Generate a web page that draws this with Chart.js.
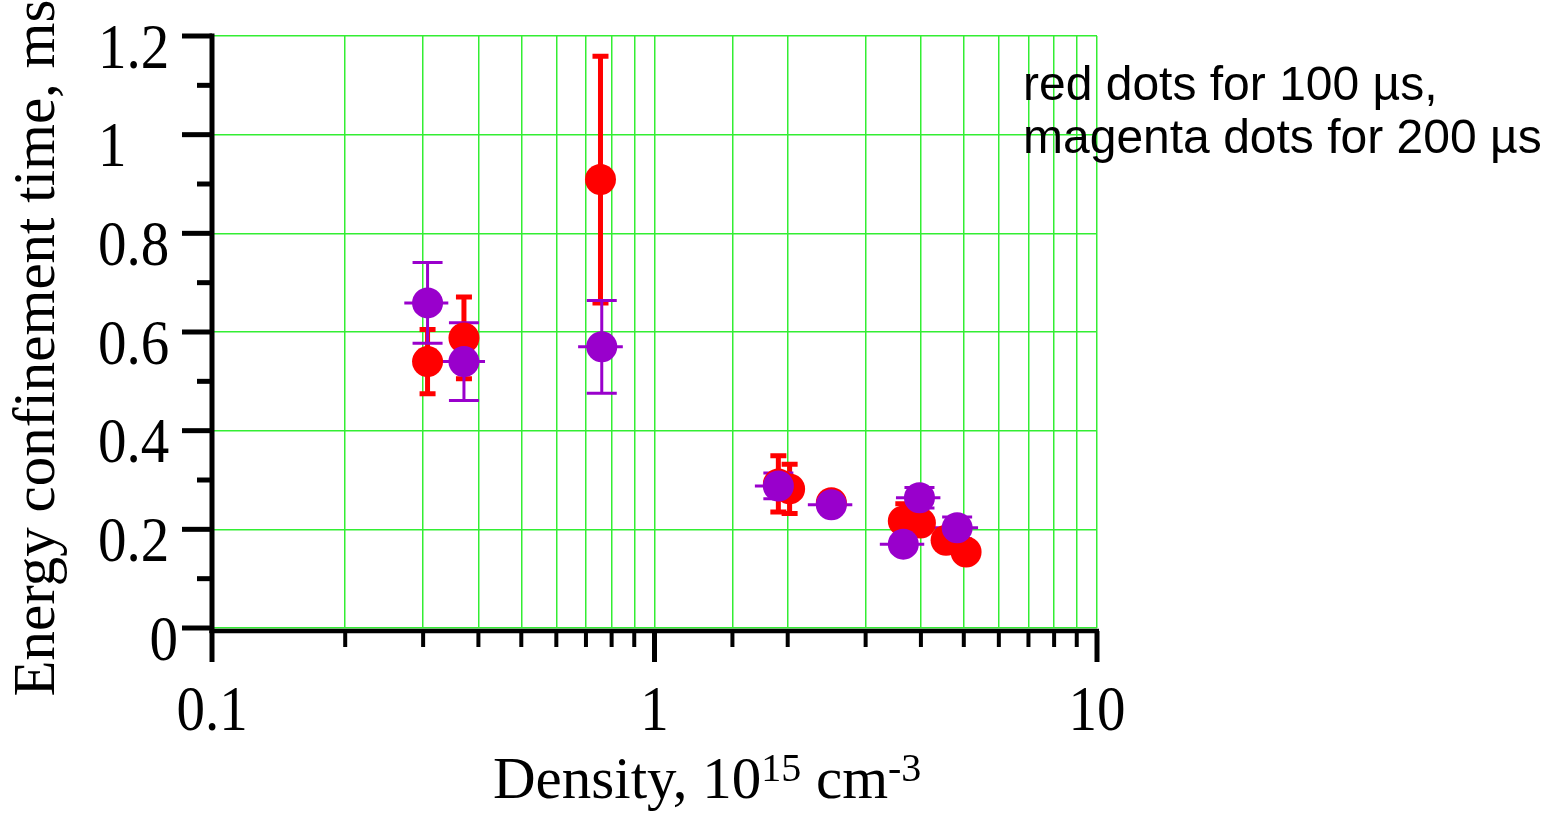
<!DOCTYPE html>
<html>
<head>
<meta charset="utf-8">
<title>Energy confinement time vs density</title>
<script src="https://cdn.jsdelivr.net/npm/chart.js@4/dist/chart.umd.min.js"></script>
<style>
  html, body { margin: 0; padding: 0; background: #fff; }
  #wrap { width: 1551px; height: 814px; position: relative; }
</style>
</head>
<body>
<div id="wrap"><canvas id="c" width="1551" height="814"></canvas></div>
<script>
// 100 µs shots (red)
const densityRed = [0.307, 0.371, 0.755, 1.905, 2.02, 2.51, 3.65, 3.99, 4.56, 5.06];
const tauRed     = [0.540, 0.588, 0.909, 0.292, 0.282, 0.254, 0.217, 0.213, 0.178, 0.154];
const tauErrRed  = [0.065, 0.083, 0.250, 0.057, 0.050, 0.010, 0.035, 0.020, 0.010, 0.010];

// 200 µs shots (magenta)
const densityMag = [0.307, 0.371, 0.760, 1.905, 2.51, 3.65, 3.97, 4.83];
const tauMag     = [0.659, 0.540, 0.570, 0.288, 0.250, 0.170, 0.264, 0.203];
const tauErrMag  = [0.082, 0.079, 0.094, 0.026, 0.000, 0.000, 0.021, 0.022];
const densErrMag = [0.035, 0.043, 0.088, 0.219, 0.289, 0.420, 0.457, 0.555];

// axis ranges and tick labels
const xRange = [0.1, 10];
const yRange = [0, 1.2];
const yStep = 0.2;
const xTickLabels = { 0.1: '0.1', 1: '1', 10: '10' };

const noteLines = ['red dots for 100 µs,', 'magenta dots for 200 µs'];

const RED = '#ff0000';
const MAG = '#9900cc';
const GRID = '#33ee33';
const SERIF = '"Liberation Serif", "Times New Roman", serif';
const SANS = '"Liberation Sans", Arial, sans-serif';

function points(xs, ys) { return xs.map((x, i) => ({ x, y: ys[i] })); }
function fmtY(v) { return (Math.round(v * 10) / 10).toString(); }

// vertical / horizontal error bars, drawn under the dots
const errorBars = {
  id: 'errorBars',
  beforeDatasetsDraw(chart) {
    const { ctx, scales: { x, y } } = chart;
    ctx.save();
    chart.data.datasets.forEach(ds => {
      const e = ds.errorStyle;
      ctx.strokeStyle = ds.backgroundColor;
      ds.data.forEach((p, i) => {
        const px = x.getPixelForValue(p.x);
        const ey = ds.tauErr[i];
        if (ey > 0) {
          const yTop = y.getPixelForValue(p.y + ey);
          const yBot = y.getPixelForValue(p.y - ey);
          ctx.lineWidth = e.width;
          ctx.beginPath();
          ctx.moveTo(px, yTop); ctx.lineTo(px, yBot);
          ctx.stroke();
          ctx.lineWidth = e.capWidth;
          ctx.beginPath();
          ctx.moveTo(px - e.cap, yTop); ctx.lineTo(px + e.cap, yTop);
          ctx.moveTo(px - e.cap, yBot); ctx.lineTo(px + e.cap, yBot);
          ctx.stroke();
        }
        if (ds.densErr) {
          const py = y.getPixelForValue(p.y);
          ctx.lineWidth = e.width;
          ctx.beginPath();
          ctx.moveTo(x.getPixelForValue(p.x - ds.densErr[i]), py);
          ctx.lineTo(x.getPixelForValue(p.x + ds.densErr[i]), py);
          ctx.stroke();
        }
      });
    });
    ctx.restore();
  }
};

// black axis lines with major and minor tick marks
const blackAxes = {
  id: 'blackAxes',
  beforeDatasetsDraw(chart) {
    const { ctx, chartArea: a, scales: { x, y } } = chart;
    ctx.save();
    ctx.strokeStyle = '#000';
    const seg = (x0, y0, x1, y1, w) => {
      ctx.lineWidth = w;
      ctx.beginPath(); ctx.moveTo(x0, y0); ctx.lineTo(x1, y1); ctx.stroke();
    };
    const axY = a.bottom + 3;
    // y axis
    seg(a.left, a.top - 2.5, a.left, axY + 2, 5);
    y.ticks.forEach((t, i) => {
      const py = y.getPixelForValue(t.value);
      seg(a.left - 30, py, a.left, py, 5);
      const nxt = y.ticks[i + 1];
      if (nxt) {
        const pm = y.getPixelForValue((t.value + nxt.value) / 2);
        seg(a.left - 15, pm, a.left, pm, 5);
      }
    });
    // x axis
    seg(a.left - 2.5, axY, a.right + 2, axY, 4.5);
    x.ticks.forEach(t => {
      const px = x.getPixelForValue(t.value);
      const major = Math.abs(Math.log10(t.value) - Math.round(Math.log10(t.value))) < 1e-6;
      seg(px, axY, px, axY + (major ? 31 : 16), major ? 5 : 4);
    });
    ctx.restore();
  }
};

// tick labels, placed from the scales' own ticks
const tickLabels = {
  id: 'tickLabels',
  afterDraw(chart) {
    const { ctx, chartArea: a, scales: { x, y } } = chart;
    ctx.save();
    ctx.fillStyle = '#000';
    ctx.font = '57px ' + SERIF;
    ctx.textBaseline = 'middle';
    const put = (txt, px, py, align) => {
      ctx.save();
      ctx.translate(px, py);
      ctx.scale(1, 1.12);
      ctx.textAlign = align;
      ctx.fillText(txt, 0, 0);
      ctx.restore();
    };
    y.ticks.forEach(t => {
      const txt = fmtY(t.value);
      const py = y.getPixelForValue(t.value) + 15;
      if (t.value === 0) put(txt, a.left - 34, py, 'right');
      else put(txt, a.left - 114, py, 'left');
    });
    x.ticks.forEach(t => {
      const txt = xTickLabels[t.value];
      if (txt) put(txt, x.getPixelForValue(t.value), a.bottom + 85, 'center');
    });
    ctx.restore();
  }
};

// axis titles and the note on the right
const texts = {
  id: 'texts',
  afterDraw(chart) {
    const { ctx } = chart;
    ctx.save();
    ctx.fillStyle = '#000';
    // y title
    ctx.save();
    ctx.translate(54, 348);
    ctx.rotate(-Math.PI / 2);
    ctx.font = '59px ' + SERIF;
    ctx.textAlign = 'center';
    ctx.textBaseline = 'alphabetic';
    ctx.fillText('Energy confinement time, ms', 0, 0);
    ctx.restore();
    // x title with superscripts
    const parts = [
      ['Density, 10', 59, 0],
      ['15', 40, -17],
      [' cm', 59, 0],
      ['-3', 40, -17]
    ];
    let cx = 493;
    const base = 798;
    ctx.textAlign = 'left';
    ctx.textBaseline = 'alphabetic';
    parts.forEach(([s, size, dy]) => {
      ctx.font = size + 'px ' + SERIF;
      ctx.fillText(s, cx, base + dy);
      cx += ctx.measureText(s).width;
    });
    // note
    ctx.font = '48px ' + SANS;
    noteLines.forEach((s, i) => ctx.fillText(s, 1023, 100 + i * 53));
    ctx.restore();
  }
};

new Chart(document.getElementById('c'), {
  type: 'scatter',
  data: {
    datasets: [
      {
        label: '100 µs',
        data: points(densityRed, tauRed),
        tauErr: tauErrRed,
        errorStyle: { width: 5, cap: 8, capWidth: 5 },
        backgroundColor: RED,
        borderWidth: 0,
        pointRadius: 15.5,
        pointHoverRadius: 15.5,
        order: 2
      },
      {
        label: '200 µs',
        data: points(densityMag, tauMag),
        tauErr: tauErrMag,
        densErr: densErrMag,
        errorStyle: { width: 3, cap: 15, capWidth: 3 },
        backgroundColor: MAG,
        borderWidth: 0,
        pointRadius: 15.5,
        pointHoverRadius: 15.5,
        order: 1
      }
    ]
  },
  options: {
    responsive: false,
    animation: false,
    events: [],
    layout: { padding: { left: 0, top: 36, right: 454, bottom: 0 } },
    plugins: { legend: { display: false }, tooltip: { enabled: false } },
    scales: {
      x: {
        type: 'logarithmic',
        min: xRange[0],
        max: xRange[1],
        afterFit(s) { s.height = 186; s.paddingLeft = 0; s.paddingRight = 0; },
        border: { display: false },
        grid: { color: GRID, lineWidth: 1.5, drawTicks: false },
        ticks: { display: false, autoSkip: false }
      },
      y: {
        min: yRange[0],
        max: yRange[1],
        afterFit(s) { s.width = 212; s.paddingTop = 0; s.paddingBottom = 0; },
        border: { display: false },
        grid: { color: GRID, lineWidth: 1.5, drawTicks: false },
        ticks: { display: false, stepSize: yStep }
      }
    }
  },
  plugins: [blackAxes, errorBars, tickLabels, texts]
});
</script>
</body>
</html>
